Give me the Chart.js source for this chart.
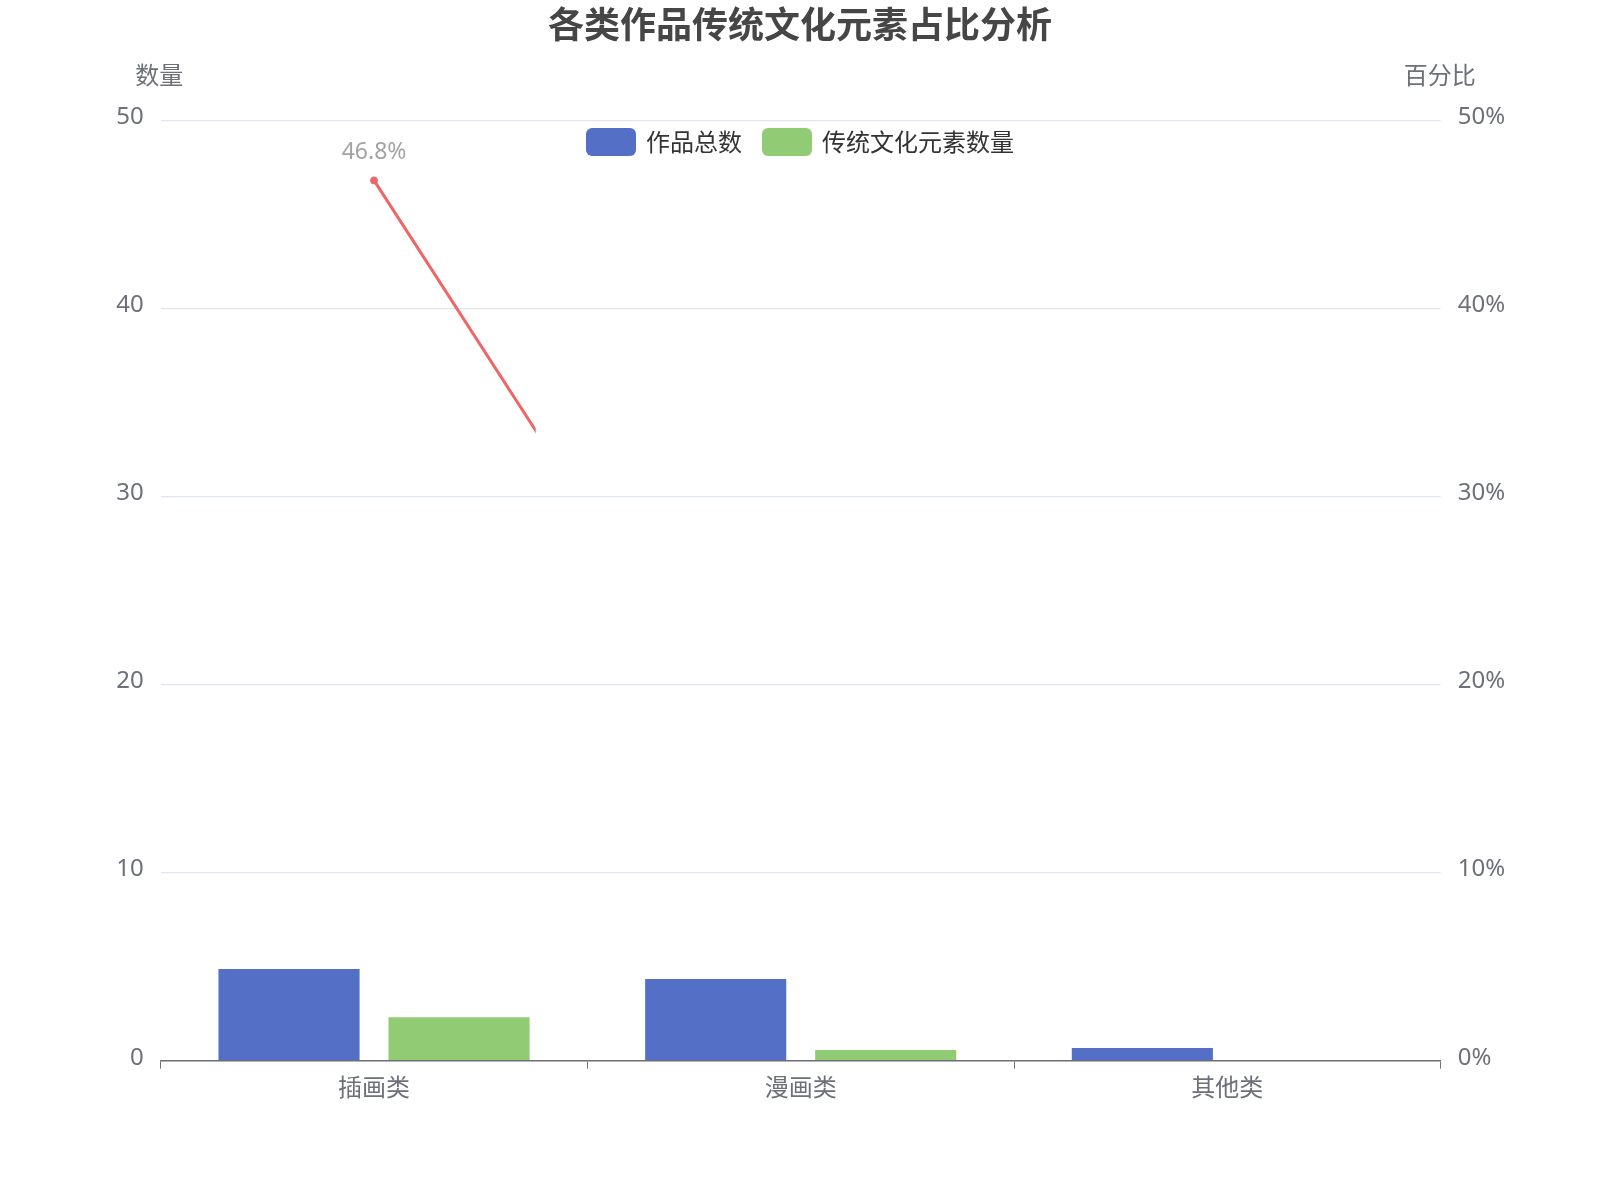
<!DOCTYPE html>
<html>
<head>
<meta charset="utf-8">
<script src="https://cdn.jsdelivr.net/npm/chart.js@4.4.1/dist/chart.umd.min.js"></script>
<style>
  html, body { margin: 0; padding: 0; background: #ffffff; }
  #c { display: block; }
</style>
</head>
<body>
<canvas id="c" width="1600" height="1200"></canvas>
<script>
// ---- Data ----
const categories = ['插画类', '漫画类', '其他类'];
const totalWorks = [4.88, 4.35, 0.67];
const traditionalCount = [2.31, 0.57, 0];
const traditionalRatio = [46.8, 11.7, 0];
const countTicks = [0, 10, 20, 30, 40, 50];
const seriesNames = ['作品总数', '传统文化元素数量', '传统文化元素占比'];
const titleText = '各类作品传统文化元素占比分析';
const leftAxisName = '数量';
const rightAxisName = '百分比';

const FONT = "'Noto Sans', 'Noto Sans CJK SC', sans-serif";
const CJK = "'Noto Sans CJK SC', 'Noto Sans', sans-serif";
const AXIS_COLOR = '#6E7079';
const GRID_COLOR = '#E0E6F1';
const COLORS = ['#5470C6', '#91CC75', '#EE6666'];

// Line was captured part-way through its reveal: only the left part is visible
const lineRevealFraction = 0.293;

const decorPlugin = {
  id: 'decor',
  beforeDatasetDraw(chart, args) {
    if (args.index === 2) {
      const a = chart.chartArea;
      const ctx = chart.ctx;
      ctx.save();
      ctx.beginPath();
      ctx.rect(a.left - 20, 0, (a.right - a.left) * lineRevealFraction + 20, chart.height);
      ctx.clip();
    }
  },
  afterDatasetDraw(chart, args) {
    if (args.index === 2) {
      chart.ctx.restore();
      // value label on the first (visible) point
      const meta = chart.getDatasetMeta(2);
      const pt = meta.data[0];
      const ctx = chart.ctx;
      ctx.save();
      ctx.font = '23px ' + FONT;
      ctx.fillStyle = '#A3A3A3';
      ctx.textAlign = 'center';
      ctx.textBaseline = 'middle';
      ctx.fillText(traditionalRatio[0].toFixed(1) + '%', pt.x, pt.y - 28);
      ctx.restore();
    }
  },
  afterDraw(chart) {
    const ctx = chart.ctx;
    const a = chart.chartArea;
    ctx.save();
    // axis names
    ctx.font = '24px ' + CJK;
    ctx.fillStyle = AXIS_COLOR;
    ctx.textAlign = 'center';
    ctx.textBaseline = 'middle';
    ctx.fillText(leftAxisName, a.left - 1.5, 75);
    ctx.fillText(rightAxisName, a.right - 1, 75);
    // legend (bar series)
    const items = [
      { label: seriesNames[0], color: COLORS[0], x: 586 },
      { label: seriesNames[1], color: COLORS[1], x: 762 }
    ];
    const cy = 142;
    ctx.textAlign = 'left';
    ctx.font = '24px ' + CJK;
    items.forEach(it => {
      ctx.fillStyle = it.color;
      ctx.beginPath();
      if (ctx.roundRect) ctx.roundRect(it.x, cy - 14, 50, 28, 6);
      else ctx.rect(it.x, cy - 14, 50, 28);
      ctx.fill();
      ctx.fillStyle = '#333333';
      ctx.fillText(it.label, it.x + 60, cy);
    });
    ctx.restore();
  }
};

new Chart(document.getElementById('c'), {
  data: {
    labels: categories,
    datasets: [
      {
        type: 'bar',
        label: seriesNames[0],
        data: totalWorks,
        backgroundColor: COLORS[0],
        yAxisID: 'y',
        categoryPercentage: 0.797,
        barPercentage: 0.83,
        order: 2
      },
      {
        type: 'bar',
        label: seriesNames[1],
        data: traditionalCount,
        backgroundColor: COLORS[1],
        yAxisID: 'y',
        categoryPercentage: 0.797,
        barPercentage: 0.83,
        order: 2
      },
      {
        type: 'line',
        label: seriesNames[2],
        data: traditionalRatio,
        borderColor: COLORS[2],
        backgroundColor: COLORS[2],
        borderWidth: 3,
        pointRadius: 3.5,
        pointBorderWidth: 1,
        pointBackgroundColor: COLORS[2],
        pointBorderColor: COLORS[2],
        tension: 0,
        fill: false,
        yAxisID: 'y1',
        clip: false,
        order: 1
      }
    ]
  },
  options: {
    responsive: false,
    animation: false,
    devicePixelRatio: 1,
    layout: { padding: { left: 0, right: 0, top: 0, bottom: 0 }, autoPadding: false },
    plugins: {
      legend: { display: false },
      tooltip: { enabled: false },
      title: {
        display: true,
        text: titleText,
        color: '#464646',
        font: { family: CJK, size: 36, weight: 'bold', lineHeight: 1.2 },
        padding: { top: 3, bottom: 74 }
      }
    },
    scales: {
      x: {
        type: 'category',
        offset: true,
        grid: {
          display: true,
          offset: true,
          drawOnChartArea: false,
          drawTicks: true,
          tickLength: 8,
          color: AXIS_COLOR,
          lineWidth: 1
        },
        border: { display: true, color: AXIS_COLOR, width: 1.5 },
        ticks: { color: AXIS_COLOR, font: { family: CJK, size: 24 }, padding: 4, maxRotation: 0 },
        afterFit(s) { s.height = 139.3; }
      },
      y: {
        type: 'linear',
        position: 'left',
        min: 0,
        max: 50,
        afterBuildTicks(s) { s.ticks = countTicks.map(v => ({ value: v })); },
        grid: { color: GRID_COLOR, lineWidth: 1.2, drawTicks: false },
        border: { display: false },
        ticks: { color: AXIS_COLOR, font: { family: FONT, size: 24 }, padding: 17, labelOffset: -3 },
        afterFit(s) { s.width = 160.7; }
      },
      y1: {
        type: 'linear',
        position: 'right',
        min: 0,
        max: 50,
        afterBuildTicks(s) { s.ticks = countTicks.map(v => ({ value: v })); },
        grid: { drawOnChartArea: false, drawTicks: false },
        border: { display: false },
        ticks: { color: AXIS_COLOR, font: { family: FONT, size: 24 }, padding: 17, labelOffset: -3, callback: v => v + '%' },
        afterFit(s) { s.width = 159.3; }
      }
    }
  },
  plugins: [decorPlugin]
});
</script>
</body>
</html>
